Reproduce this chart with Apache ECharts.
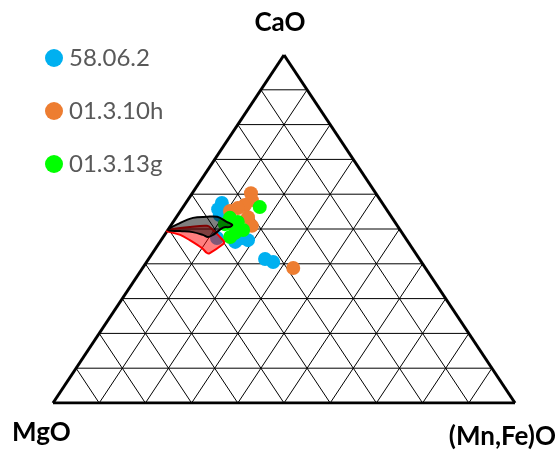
<!DOCTYPE html>
<html><head><meta charset="utf-8">
<script src="https://cdn.jsdelivr.net/npm/echarts@6/dist/echarts.min.js"></script>
<style>html,body{margin:0;padding:0;background:#fff}#c{width:560px;height:452px}</style>
</head><body><div id="c"></div>
<script>
// Apex labels
const apexLabels = ['CaO', 'MgO', '(Mn,Fe)O'];
const seriesNames = ['58.06.2', '01.3.10h', '01.3.13g'];
const seriesColors = ['#00B0F0', '#ED7D31', '#00FF00'];
const gridSteps = [10, 20, 30, 40, 50, 60, 70, 80, 90];

// Compositions in % : [CaO, MgO, (Mn,Fe)O]
const s58062 = [
  [57.5, 34.7, 7.8], [55.7, 36.4, 7.9], [54.0, 36.9, 9.1], [52.0, 36.5, 11.5],
  [47.4, 40.8, 11.8], [46.3, 37.4, 16.3], [47.4, 35.4, 17.2], [46.8, 34.4, 18.8],
  [41.4, 33.4, 25.2], [40.5, 32.1, 27.4]
];
const s01310h = [
  [60.3, 27.0, 12.7], [58.3, 27.8, 13.9], [56.9, 30.0, 13.1], [56.0, 32.0, 12.0],
  [55.2, 34.1, 10.7], [53.4, 31.1, 15.5], [50.9, 31.5, 17.6], [38.8, 28.6, 32.6]
];
const s01313g = [
  [56.3, 27.1, 16.6], [53.2, 35.1, 11.7], [52.0, 34.0, 14.0], [51.4, 37.1, 11.5],
  [48.9, 36.1, 15.0], [49.7, 34.0, 16.3], [47.7, 37.8, 14.5]
];
// Outlined fields
const redField = [
  [49.4, 50.6, 0.0], [50.0, 49.0, 1.0], [50.6, 45.0, 4.4], [50.9, 41.2, 7.9],
  [50.6, 41.0, 9.4], [47.7, 40.0, 12.3], [46.3, 39.8, 13.9], [45.7, 40.3, 14.0],
  [43.1, 44.5, 12.4], [43.1, 45.1, 11.8], [44.5, 45.5, 10.0], [46.8, 47.0, 6.2],
  [48.3, 48.3, 3.4], [49.1, 50.1, 0.8]
];
const greyField = [
  [49.7, 50.3, 0.0], [51.7, 46.7, 1.6], [53.2, 43.1, 3.7], [53.5, 40.0, 6.5],
  [53.5, 37.7, 8.8], [52.0, 36.3, 11.7], [51.2, 35.6, 13.2], [50.6, 36.4, 13.0],
  [49.4, 37.2, 11.4], [48.3, 41.2, 10.5], [47.7, 42.6, 9.7], [48.3, 43.4, 8.3],
  [49.1, 45.2, 5.7], [49.4, 47.8, 2.8]
];

function toXY(t) {
  const s = t[0] + t[1] + t[2];
  const c = t[0] / s, f = t[2] / s;
  return [f + c / 2, c];
}

const series = [];
function addLine(a, b, w) {
  series.push({
    type: 'line', data: [toXY(a), toXY(b)], symbol: 'none', silent: true,
    lineStyle: { color: '#000', width: w }, z: 1, animation: false
  });
}
gridSteps.forEach(p => {
  addLine([p, 100 - p, 0], [p, 0, 100 - p], 1);
  addLine([0, 100 - p, p], [100 - p, 0, p], 1);
  addLine([0, p, 100 - p], [100 - p, p, 0], 1);
});
addLine([100, 0, 0], [0, 100, 0], 3);
addLine([0, 100, 0], [0, 0, 100], 3);
addLine([0, 0, 100], [100, 0, 0], 3);

[s58062, s01310h, s01313g].forEach((arr, i) => {
  series.push({
    name: seriesNames[i], type: 'scatter', data: arr.map(toXY),
    symbol: 'circle', symbolSize: 14, itemStyle: { color: seriesColors[i], opacity: 1 },
    z: 3, animation: false
  });
});

function polySeries(arr, fill, stroke, z) {
  const pts = arr.map(toXY);
  return {
    type: 'custom', data: pts, z: z, silent: true, animation: false,
    renderItem: function (params, api) {
      if (params.dataIndex !== 0) return null;
      return {
        type: 'polygon',
        shape: { points: pts.map(p => api.coord(p)), smooth: 0.35 },
        style: { fill: fill, stroke: stroke, lineWidth: 2 }
      };
    }
  };
}
series.push(polySeries(redField, 'rgba(255,0,0,0.5)', '#FF0000', 4));
series.push(polySeries(greyField, 'rgba(0,0,0,0.5)', '#000000', 5));

const chart = echarts.init(document.getElementById('c'));
chart.setOption({
  animation: false,
  grid: { left: 53, right: 45, top: 55, bottom: 49 },
  xAxis: { type: 'value', min: 0, max: 1, show: false },
  yAxis: { type: 'value', min: 0, max: 1, show: false },
  legend: {
    data: seriesNames, orient: 'vertical', left: 40, top: 40,
    icon: 'circle', itemWidth: 18, itemHeight: 18, itemGap: 27,
    textStyle: { fontSize: 24, color: '#595959', fontFamily: 'Lato', padding: [0, 0, 0, 1], lineHeight: 26 }
  },
  graphic: [
    { type: 'text', left: 'center', top: 10, style: { text: apexLabels[0], font: 'bold 26px Lato', fill: '#000' } },
    { type: 'text', left: 12, top: 420, style: { text: apexLabels[1], font: 'bold 26px Lato', fill: '#000' } },
    { type: 'text', right: 4, top: 424, style: { text: apexLabels[2], font: 'bold 26px Lato', fill: '#000' } }
  ],
  series: series
});
</script></body></html>
